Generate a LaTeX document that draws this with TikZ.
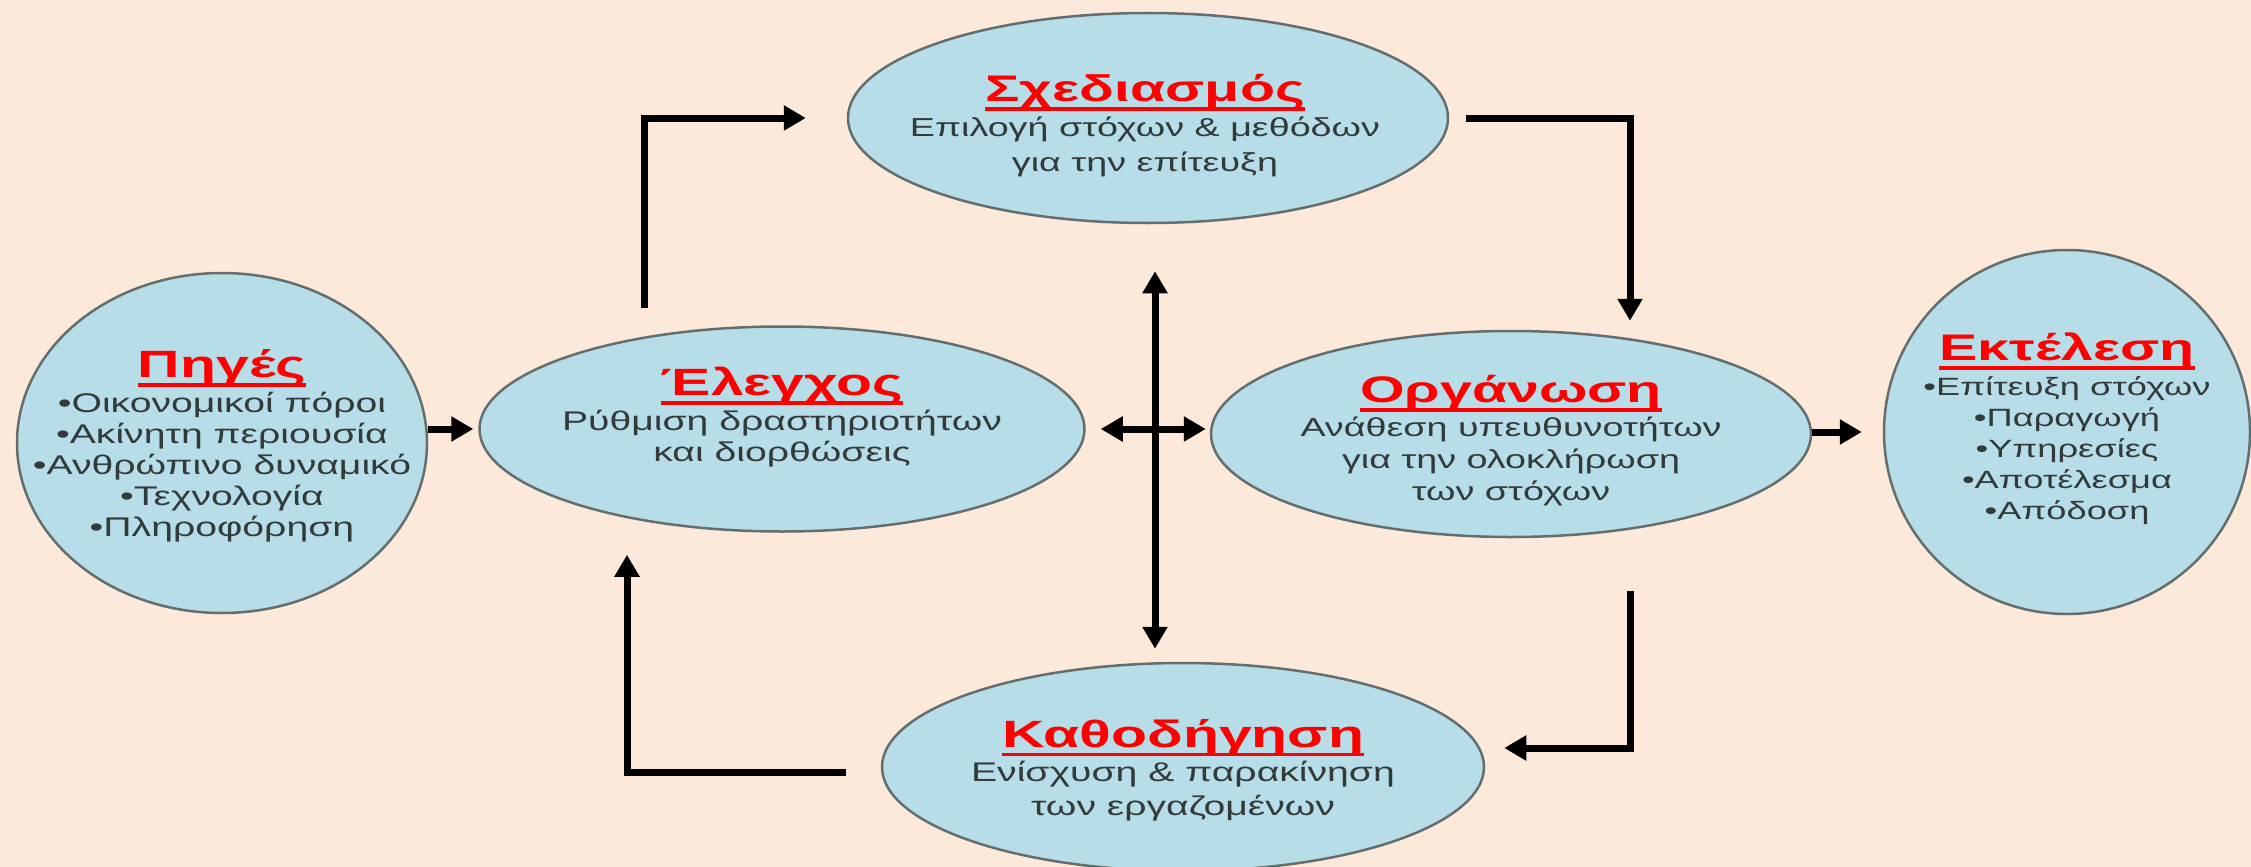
\documentclass[tikz,border=0pt]{standalone}
\usepackage{fontspec}
\setmainfont{Liberation Sans}
\newfontfamily\grfont[FakeStretch=1.45]{Liberation Sans}
\newfontfamily\grtitlefont[FakeStretch=1.55]{Liberation Sans}
\usetikzlibrary{arrows.meta,shapes.geometric}
\definecolor{bgpeach}{RGB}{253,233,217}
\definecolor{ellfill}{RGB}{183,222,232}
\definecolor{ellline}{RGB}{100,110,110}
\definecolor{titlered}{RGB}{255,0,0}
\definecolor{bodygray}{RGB}{50,58,58}
\newcommand\redul[1]{\setbox0\hbox{#1}\rlap{\rule[-0.24em]{\wd0}{0.1em}}\box0}
\newcommand\ttl[2][37]{{\grtitlefont\fontsize{#1}{#1}\selectfont\bfseries\color{titlered}\redul{#2}}}
\tikzset{
  ell/.style={ellipse, draw=ellline, line width=2.5pt, fill=ellfill, inner sep=0pt},
  txt/.style={align=center, inner sep=0pt, text=bodygray},
  conn/.style={line width=7pt, draw=black},
  arr/.style={conn, -{Triangle[length=22pt,width=24pt]}},
  darr/.style={conn, {Triangle[length=22pt,width=24pt]}-{Triangle[length=22pt,width=24pt]}}
}
\begin{document}
\begin{tikzpicture}[x=1pt,y=-1pt]
\fill[bgpeach] (0,0) rectangle (2251,867);
\useasboundingbox (0,0) rectangle (2251,867);
% ellipses
\node[ell, minimum width=410pt, minimum height=340pt] (src)   at (222,443) {};
\node[ell, minimum width=605pt, minimum height=205pt] (ctrl)  at (782,429) {};
\node[ell, minimum width=600pt, minimum height=210pt] (plan)  at (1148,118) {};
\node[ell, minimum width=600pt, minimum height=206pt] (org)   at (1511,434) {};
\node[ell, minimum width=366pt, minimum height=364pt] (exe)   at (2067,432) {};
\node[ell, minimum width=602pt, minimum height=208pt] (guide) at (1183,767) {};
% texts
\node[txt, font=\grfont\fontsize{27}{31}\selectfont] (srct) at (222,446)
  {\ttl[38]{Πηγές}\\[4pt] •Οικονομικοί πόροι\\ •Ακίνητη περιουσία\\ •Ανθρώπινο δυναμικό\\ •Τεχνολογία\\ •Πληροφόρηση};
\node[txt, font=\grfont\fontsize{27}{31}\selectfont] (ctrlt) at (782,417)
  {\ttl[38]{Έλεγχος}\\[4pt] Ρύθμιση δραστηριοτήτων\\ και διορθώσεις};
\node[txt, font=\grfont\fontsize{26}{35}\selectfont] (plant) at (1145,126)
  {\ttl[37]{Σχεδιασμός}\\[0pt] Επιλογή στόχων \& μεθόδων\\ για την επίτευξη};
\node[txt, font=\grfont\fontsize{26}{32}\selectfont] (orgt) at (1511,441)
  {\ttl[37]{Οργάνωση}\\[2pt] Ανάθεση υπευθυνοτήτων\\ για την ολοκλήρωση\\ των στόχων};
\node[txt, font=\grfont\fontsize{25}{31}\selectfont] (exet) at (2067,429)
  {\ttl[37]{Εκτέλεση}\\[4pt] •Επίτευξη στόχων\\ •Παραγωγή\\ •Υπηρεσίες\\ •Αποτέλεσμα\\ •Απόδοση};
\node[txt, font=\grfont\fontsize{27}{34}\selectfont] (guidet) at (1183,770)
  {\ttl[38]{Καθοδήγηση}\\[0pt] Ενίσχυση \& παρακίνηση\\ των εργαζομένων};
% helper coordinates
\coordinate (cross) at (1155,429);
\coordinate (colR) at (1630,0);
\coordinate (colL) at (627,0);
\coordinate (colT) at (644,308);
% connectors
\draw[arr, shorten >=5pt] (src.east |- ctrl.west) -- (ctrl.west);
\draw[darr, shorten <=15pt, shorten >=4pt] (ctrl.east) -- (ctrl.east -| org.west);
\draw[arr, shorten >=21pt] (org.east |- exe.west) -- (exe.west);
\draw[darr, shorten <=47pt, shorten >=13pt] (cross |- plan.south) -- (cross |- guide.north);
\draw[arr, shorten >=41pt] (colT) |- (plan.west);
\draw[arr, shorten >=9pt] ([xshift=17pt]plan.east) -| (colR |- org.north);
\draw[arr, shorten <=53pt, shorten >=19pt] (colR |- org.south) |- ([yshift=19pt]guide.east);
\draw[arr, shorten <=35pt, shorten >=22pt] ([yshift=-5pt]guide.west) -| (colL |- ctrl.south);
\end{tikzpicture}
\end{document}
